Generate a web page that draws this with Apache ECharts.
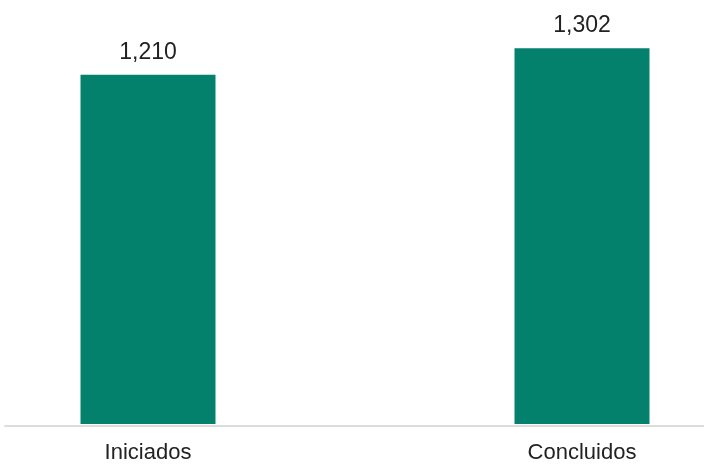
<!DOCTYPE html>
<html><head><meta charset="utf-8">
<script src="https://cdn.jsdelivr.net/npm/echarts@6/dist/echarts.min.js"></script>
<style>html,body{margin:0;padding:0;background:#fff}#c{width:704px;height:464px}</style>
</head><body><div id="c"></div>
<script>
var categories = ["Iniciados", "Concluidos"];
var values = [1210, 1302];

var chart = echarts.init(document.getElementById('c'), null, {renderer: 'canvas'});
chart.setOption({
  animation: false,
  backgroundColor: '#ffffff',
  grid: [
    {left: 148, right: 122, top: 20, bottom: 38},
    {left: 5, right: 0, top: 20, bottom: 38}
  ],
  xAxis: [
    {type: 'category', data: categories, gridIndex: 0, boundaryGap: false,
     axisLine: {show: false}, axisTick: {show: false},
     axisLabel: {fontSize: 22, color: '#222', margin: 18, fontFamily: 'Liberation Sans, Arial, sans-serif'}},
    {type: 'category', data: categories, gridIndex: 1,
     axisLine: {show: true, lineStyle: {color: '#dcdcdc', width: 2}},
     axisTick: {show: false}, axisLabel: {show: false}}
  ],
  yAxis: [
    {type: 'value', min: 0, max: 1400, gridIndex: 0, show: false, splitLine: {show: false}},
    {type: 'value', min: 0, max: 1400, gridIndex: 1, show: false, splitLine: {show: false}}
  ],
  series: [{
    type: 'bar', xAxisIndex: 0, yAxisIndex: 0, clip: false,
    data: values, barWidth: 135,
    itemStyle: {color: '#04816d'},
    label: {show: true, position: 'top', distance: 11, fontSize: 23, color: '#222',
      fontFamily: 'Liberation Sans, Arial, sans-serif',
      formatter: function(p){ return p.value.toLocaleString('en-US'); }}
  }]
});
</script></body></html>
